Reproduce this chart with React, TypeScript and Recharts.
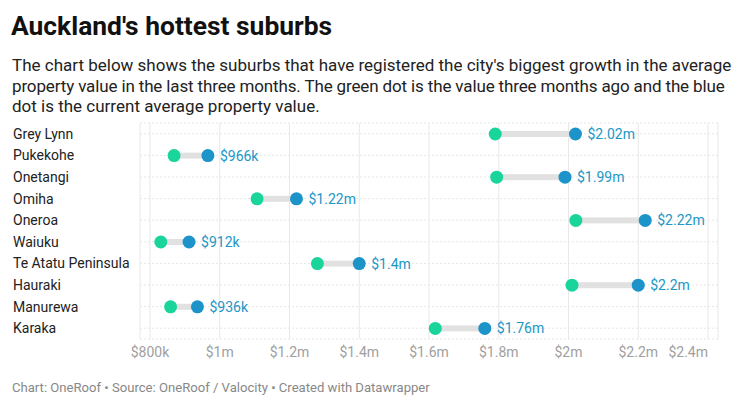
import React from "react";
import { ComposedChart, Bar, XAxis, YAxis, CartesianGrid } from "recharts";

const suburbs = ["Grey Lynn", "Pukekohe", "Onetangi", "Omiha", "Oneroa", "Waiuku", "Te Atatu Peninsula", "Hauraki", "Manurewa", "Karaka"];
// values in $k
const threeMonthsAgo = [1790, 869, 1794, 1107, 2021, 831, 1280, 2010, 859, 1618];
const current = [2020, 966, 1990, 1220, 2220, 912, 1400, 2200, 936, 1760];
const xTicks = [800, 1000, 1200, 1400, 1600, 1800, 2000, 2200, 2400];

const GREEN = "#19d49b";
const BLUE = "#1c94c9";
const FONT = "Roboto, 'Noto Sans', sans-serif";

const fmt = (v: number) => (v < 1000 ? `$${v}k` : `$${+(v / 1000).toFixed(2)}m`);

const data = suburbs.map((name, i) => ({
  name,
  range: [threeMonthsAgo[i], current[i]],
  from: threeMonthsAgo[i],
  to: current[i],
}));

const Dumbbell = (props: any) => {
  const { x, y, width, height, payload } = props;
  const cy = y + height / 2;
  const x1 = x;
  const x2 = x + width;
  return (
    <g>
      <rect x={x1} y={cy - 3} width={x2 - x1} height={6} fill="#e1e1e1" />
      <circle cx={x1} cy={cy} r={6.5} fill={GREEN} />
      <circle cx={x2} cy={cy} r={6.5} fill={BLUE} />
      <text x={x2 + 12} y={cy} dy="0.36em" fontSize={14} fill="#2197c6" fontFamily={FONT}>
        {fmt(payload.to)}
      </text>
    </g>
  );
};

const XTick = (props: any) => {
  const { x, y, payload, index } = props;
  const last = index === xTicks.length - 1;
  return (
    <text x={x} y={y} dy="0.71em" textAnchor={last ? "end" : "middle"} fontSize={14} fill="#a0a0a0" fontFamily={FONT}>
      {fmt(payload.value)}
    </text>
  );
};

const YTick = (props: any) => {
  const { y, payload } = props;
  return (
    <text x={13} y={y} dy="0.36em" textAnchor="start" fontSize={14} fill="#222" fontFamily={FONT}>
      {payload.value}
    </text>
  );
};

export default function App() {
  return (
    <div style={{ position: "absolute", left: 0, top: 0, width: 740, height: 409, background: "#fff", fontFamily: FONT, overflow: "hidden" }}>
      <div style={{ position: "absolute", left: 11, top: 9, fontSize: 26.4, fontWeight: 700, color: "#111", lineHeight: "34px", whiteSpace: "nowrap" }}>
        Auckland's hottest suburbs
      </div>
      <div style={{ position: "absolute", left: 12, top: 55, width: 735, fontSize: 17, color: "#222", lineHeight: "20.5px", whiteSpace: "nowrap" }}>
        The chart below shows the suburbs that have registered the city's biggest growth in the average
        <br />
        <span style={{ letterSpacing: "-0.14px" }}>property value in the last three months. The green dot is the value three months ago and the blue</span>
        <br />
        dot is the current average property value.
      </div>
      <div style={{ position: "absolute", left: 0, top: 0 }}>
        <ComposedChart width={740} height={409} data={data} layout="vertical" margin={{ top: 123, right: 22, bottom: 40, left: 0 }}>
          <CartesianGrid horizontal={true} vertical={false} stroke="#e6e6e6" strokeDasharray="2 2" />
          <CartesianGrid horizontal={false} vertical={true} stroke="#e8e8e8" />
          <XAxis
            type="number"
            domain={[800, 2400]}
            ticks={xTicks}
            interval={0}
            padding={{ left: 10, right: 10 }}
            axisLine={false}
            tickLine={false}
            tick={<XTick />}
            height={30}
          />
          <YAxis type="category" dataKey="name" width={140} axisLine={false} tickLine={false} tick={<YTick />} interval={0} />
          <Bar dataKey="range" barSize={6} shape={<Dumbbell />} isAnimationActive={false} />
        </ComposedChart>
      </div>
      <div style={{ position: "absolute", left: 12, top: 380, fontSize: 13.1, color: "#888", lineHeight: "16px", whiteSpace: "nowrap" }}>
        Chart: OneRoof • Source: OneRoof / Valocity • Created with Datawrapper
      </div>
    </div>
  );
}
